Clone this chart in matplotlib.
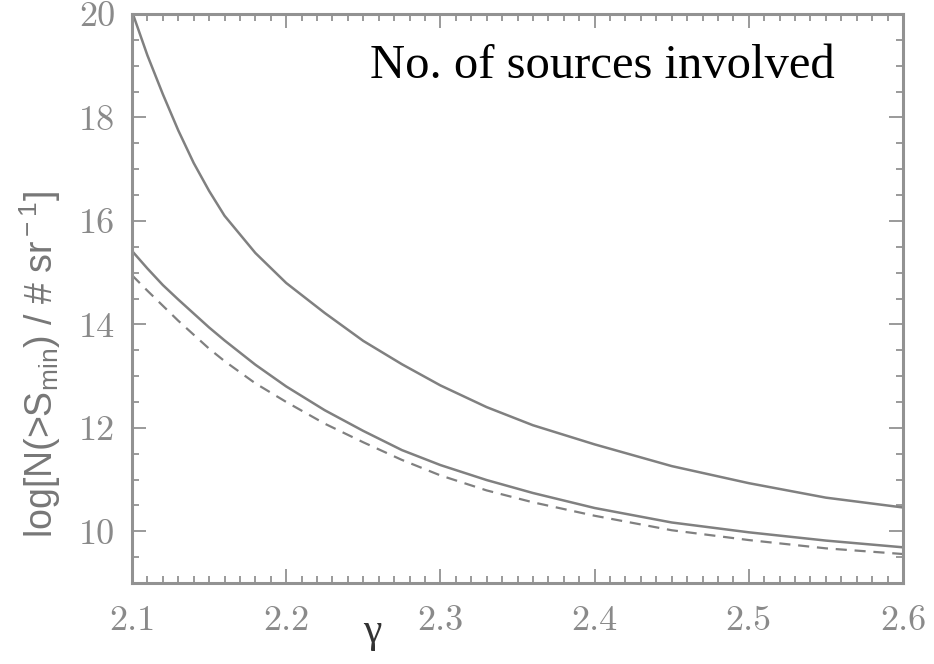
import numpy as np
import matplotlib
matplotlib.use("Agg")
import matplotlib.pyplot as plt
from matplotlib.ticker import MultipleLocator, FormatStrFormatter

# spectral index grid and log source counts for the three curves
gamma = [2.100, 2.110, 2.120, 2.130, 2.140, 2.150, 2.160, 2.180, 2.200,
         2.225, 2.250, 2.275, 2.300, 2.330, 2.360, 2.400, 2.450, 2.500,
         2.550, 2.600]
upper_solid = [20.05, 19.20, 18.45, 17.75, 17.12, 16.58, 16.10, 15.38, 14.80,
               14.22, 13.68, 13.23, 12.82, 12.40, 12.05, 11.68, 11.26, 10.93,
               10.65, 10.46]
lower_solid = [15.42, 15.08, 14.76, 14.48, 14.21, 13.94, 13.69, 13.22, 12.80,
               12.34, 11.94, 11.57, 11.28, 10.99, 10.74, 10.45, 10.17, 9.98,
               9.82, 9.69]
lower_dashed = [14.95, 14.65, 14.36, 14.07, 13.80, 13.53, 13.29, 12.86, 12.50,
                12.08, 11.72, 11.38, 11.08, 10.79, 10.56, 10.30, 10.02, 9.83,
                9.67, 9.56]

x_ticks = [2.1, 2.2, 2.3, 2.4, 2.5, 2.6]
y_ticks = [10, 12, 14, 16, 18, 20]

W, H = 934, 664
grey = "#929292"
line_grey = "#808080"

plt.rcParams["mathtext.fontset"] = "custom"
plt.rcParams["mathtext.rm"] = "Liberation Sans"
plt.rcParams["mathtext.it"] = "Liberation Sans"

fig = plt.figure(figsize=(W / 100, H / 100), dpi=100)
ax = fig.add_axes([132 / W, 1 - 583 / H, (903 - 132) / W, (583 - 14) / H])

ax.plot(gamma, upper_solid, color=line_grey, lw=1.8)
ax.plot(gamma, lower_solid, color=line_grey, lw=1.8)
ax.plot(gamma, lower_dashed, color=line_grey, lw=1.6, ls=(0, (5, 3.5)))

ax.set_xlim(2.1, 2.6)
ax.set_ylim(9, 20)
ax.set_xticks(x_ticks)
ax.set_yticks(y_ticks)
ax.xaxis.set_minor_locator(MultipleLocator(0.01))
ax.yaxis.set_minor_locator(MultipleLocator(0.5))
ax.xaxis.set_major_formatter(FormatStrFormatter("%.1f"))
ax.yaxis.set_major_formatter(FormatStrFormatter("%d"))

ax.tick_params(which="both", direction="in", top=True, right=True,
               color=grey, width=1.3, labelcolor="#8a8a8a")
ax.tick_params(which="major", length=10)
ax.tick_params(which="minor", length=5)
ax.tick_params(axis="x", which="major", pad=16)
ax.tick_params(axis="y", which="major", pad=12)
for lab in ax.get_xticklabels() + ax.get_yticklabels():
    lab.set_fontfamily("cmr10")
    lab.set_fontsize(26)

for sp in ax.spines.values():
    sp.set_color(grey)
    sp.set_linewidth(2.2)

fig.text(40 / W, 1 - 365 / H,
         r"log[N(>S$_{\rm min}$) / # sr$^{\rm -1}$]",
         rotation=90, ha="center", va="center",
         fontsize=27, color="#777777", family="Liberation Sans")
fig.text(372 / W, 1 - 632 / H, "γ", ha="center", va="center",
         fontsize=30, color="#333333", family="Liberation Serif")
fig.text(370 / W, 1 - 78 / H, "No. of sources involved",
         ha="left", va="baseline", fontsize=35, color="black",
         family="Liberation Serif")

fig.savefig("out.png", dpi=100)
